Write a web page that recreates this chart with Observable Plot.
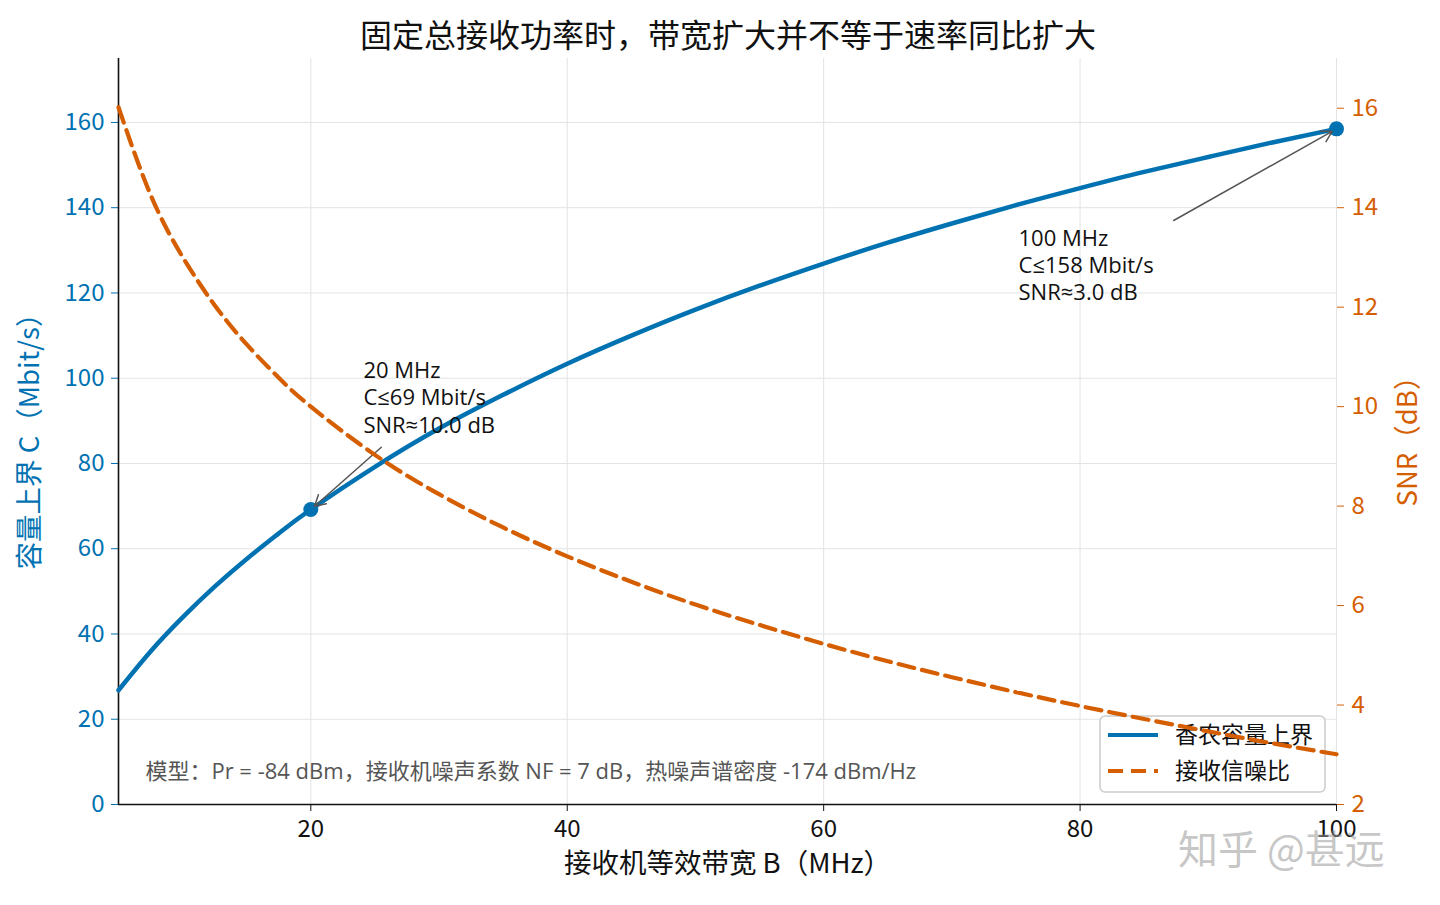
<!DOCTYPE html>
<html><head><meta charset="utf-8">
<script src="https://cdn.jsdelivr.net/npm/d3@7"></script>
<script src="https://cdn.jsdelivr.net/npm/@observablehq/plot@0.6"></script>
<style>
body{margin:0;background:#fff;font-family:"Noto Sans CJK SC","Noto Sans",sans-serif;}
#wrap{position:relative;width:1440px;height:905px;overflow:hidden;background:#fff;}
#title{position:absolute;left:0;top:12px;width:1456px;text-align:center;font-size:32px;line-height:42px;color:#111;}
#chart{position:absolute;left:0;top:48px;}
#wm{position:absolute;left:1178px;top:822px;font-size:40px;line-height:50px;color:rgba(150,150,150,0.55);white-space:nowrap;}
</style>
</head><body>
<div id="wrap">
  <div id="title">固定总接收功率时，带宽扩大并不等于速率同比扩大</div>
  <div id="chart"></div>
  <div id="wm">知乎 @甚远</div>
</div>
<script>
// Data
const bandwidth = [5, 7.5, 10, 12.5, 15, 17.5, 20, 25, 30, 35, 40, 45, 50, 55, 60, 65, 70, 75, 80, 85, 90, 95, 100];
const capacity  = [26.8, 35.9, 43.9, 51.1, 57.6, 63.6, 69.2, 79.2, 88.2, 96.1, 103.4, 110.0, 116.1, 121.7, 126.9, 131.8, 136.3, 140.6, 144.6, 148.4, 151.9, 155.3, 158.5];
const snrDb     = [16.02, 14.26, 13.01, 12.04, 11.25, 10.58, 10.00, 9.03, 8.24, 7.57, 6.99, 6.48, 6.02, 5.61, 5.23, 4.88, 4.56, 4.26, 3.98, 3.72, 3.47, 3.23, 3.01];

const xTicks = [20, 40, 60, 80, 100];
const cTicks = [0, 20, 40, 60, 80, 100, 120, 140, 160];
const snrTicks = [2, 4, 6, 8, 10, 12, 14, 16];

const markB = [20, 100];
const markC = [69.2, 158.5];
const markSnr = [10.0, 3.0];
// annotation text anchors and arrow tails (data units)
const noteB = [24.1, 75.2];
const noteC = [104.6, 135.6];
const tailB = [25.5, 87.3];
const tailC = [83.8, 137.0];

const modelText = "模型：Pr = -84 dBm，接收机噪声系数 NF = 7 dB，热噪声谱密度 -174 dBm/Hz";
const legendLabels = ["香农容量上界", "接收信噪比"];

const BLUE = "#0072B2", ORANGE = "#D55E00";
const LATIN = '"Open Sans","Liberation Sans","Noto Sans CJK SC",sans-serif';
const cMax = 175, sMin = 2, sMax = 17;
const toLeft = s => (s - sMin) / (sMax - sMin) * cMax;
const fromLeft = v => v / cMax * (sMax - sMin) + sMin;

const idx = bandwidth.map((d, i) => i);
const mIdx = markB.map((d, i) => i);

function legendMark(index, scales, values, dims) {
  const w = 225, h = 76;
  const x0 = dims.width - dims.marginRight - 11 - w;
  const y0 = dims.height - dims.marginBottom - 12 - h;
  const g = d3.create("svg:g");
  g.append("rect").attr("x", x0).attr("y", y0).attr("width", w).attr("height", h).attr("rx", 5)
    .attr("fill", "white").attr("fill-opacity", 0.8).attr("stroke", "#cccccc").attr("stroke-width", 1.5);
  const rows = [{c: BLUE, dash: null}, {c: ORANGE, dash: "15,8"}];
  rows.forEach((r, i) => {
    const yy = y0 + 19 + i * 36;
    const ln = g.append("line").attr("x1", x0 + 8).attr("x2", x0 + 58).attr("y1", yy).attr("y2", yy)
      .attr("stroke", r.c).attr("stroke-width", 4);
    if (r.dash) ln.attr("stroke-dasharray", r.dash);
    g.append("text").attr("x", x0 + 75).attr("y", yy).attr("dy", "0.35em").attr("font-size", 23)
      .attr("text-anchor", "start").attr("fill", "#111").text(legendLabels[i]);
  });
  return g.node();
}

const chart = Plot.plot({
  width: 1440,
  height: 857,
  marginTop: 10,
  marginBottom: 101,
  marginLeft: 118,
  marginRight: 104,
  style: {fontFamily: '"Noto Sans CJK SC","Noto Sans",sans-serif', fontSize: "22px", background: "transparent", overflow: "visible"},
  x: {domain: [5, 100]},
  y: {domain: [0, cMax]},
  marks: [
    Plot.gridX(xTicks, {stroke: "#e3e3e3", strokeOpacity: 1, strokeWidth: 1}),
    Plot.gridY(cTicks.filter(d => d > 0), {stroke: "#e3e3e3", strokeOpacity: 1, strokeWidth: 1}),
    Plot.axisX(xTicks, {tickSize: 7, tickPadding: 8, fontSize: 24, color: "#111", label: null}),
    Plot.axisY(cTicks, {tickSize: 7, tickPadding: 7, fontSize: 24, color: BLUE, label: null}),
    Plot.axisY(snrTicks.map(toLeft), {anchor: "right", tickSize: 7, tickPadding: 8, fontSize: 24, color: ORANGE,
      tickFormat: v => String(Math.round(fromLeft(v))), label: null}),
    Plot.ruleX([5], {stroke: "#111", strokeWidth: 1.6}),
    Plot.ruleY([0], {stroke: "#111", strokeWidth: 1.6}),
    Plot.text(["接收机等效带宽 B（MHz）"], {frameAnchor: "bottom", dy: 68, fontSize: 27.5, fill: "#111"}),
    Plot.text(["容量上界 C（Mbit/s）"], {frameAnchor: "left", textAnchor: "middle", dx: -88, dy: 3, rotate: -90, fontSize: 27.5, fill: BLUE}),
    Plot.text(["SNR（dB）"], {frameAnchor: "right", textAnchor: "middle", dx: 72, dy: 3, rotate: -90, fontSize: 27.5, fill: ORANGE}),
    Plot.line(idx, {x: i => bandwidth[i], y: i => capacity[i], stroke: BLUE, strokeWidth: 4.5, curve: "natural"}),
    Plot.dot(mIdx, {x: i => markB[i], y: i => markC[i], r: 7.5, fill: BLUE}),
    Plot.arrow(mIdx, {x1: i => tailB[i], y1: i => tailC[i], x2: i => markB[i], y2: i => markC[i],
      stroke: "#555", strokeWidth: 1.5, headLength: 12, insetEnd: 5}),
    Plot.text(mIdx, {x: i => noteB[i], y: i => noteC[i],
      text: i => `${markB[i]} MHz\nC≤${Math.floor(markC[i])} Mbit/s\nSNR≈${markSnr[i].toFixed(1)} dB`,
      textAnchor: "start", lineAnchor: "top", lineHeight: 1.24, fontSize: 22, fontFamily: LATIN, fill: "#111"}),
    Plot.text([modelText], {x: 7.1, y: 7.7, textAnchor: "start", fontSize: 22, fontFamily: LATIN, fill: "#555"}),
    legendMark,
    Plot.line(idx, {x: i => bandwidth[i], y: i => toLeft(snrDb[i]), stroke: ORANGE, strokeWidth: 4.2, strokeDasharray: "16,8", curve: "natural"})
  ]
});
document.getElementById("chart").appendChild(chart);
</script>
</body></html>
